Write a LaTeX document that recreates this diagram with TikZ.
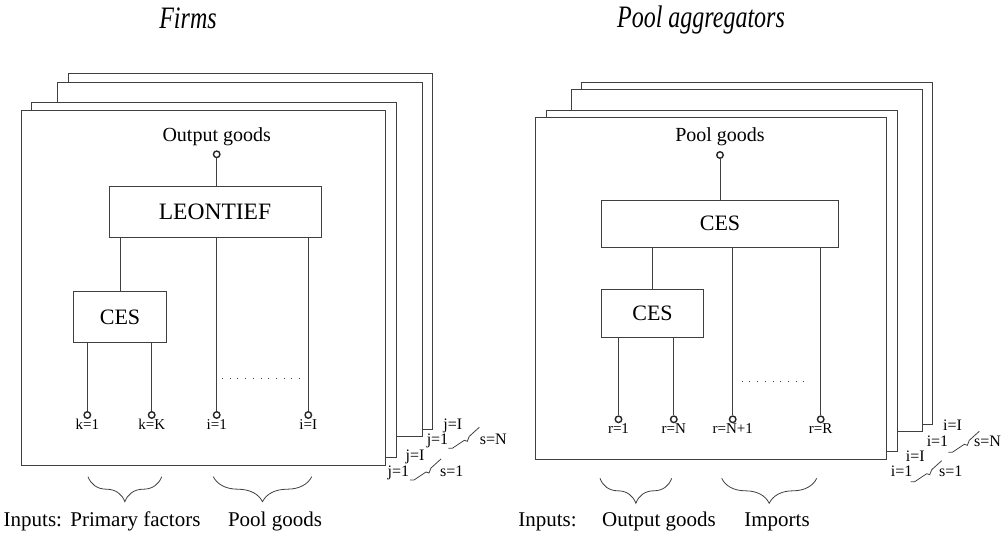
\documentclass[tikz,border=0pt]{standalone}
\usepackage{graphicx}
\usepackage{fontspec}
\setmainfont{Liberation Serif}
\usetikzlibrary{decorations.pathreplacing}

\begin{document}
\begin{tikzpicture}[x=1pt,y=-1pt,line width=0.8pt,
  frame/.style={draw=linegray,fill=white},
  box/.style={draw=linegray,fill=white,inner sep=0,font=\fontsize{22}{22}\selectfont},
  port/.style={circle,draw=black!85,line width=1.4pt,fill=white,inner sep=0,minimum size=6.5,label distance=13.3},
  idx/.style={inner sep=0,text height=10pt,text depth=0pt,font=\fontsize{15}{15}\selectfont},
  side/.style={inner sep=0,anchor=base,font=\fontsize{16}{16}\selectfont},
  txt/.style={inner sep=0,anchor=base,font=\fontsize{21}{21}\selectfont},
  ttl/.style={inner sep=0,anchor=base,font=\fontsize{24}{24}\selectfont\itshape},
  brc/.style={decorate,decoration={brace,mirror,amplitude=25}}]
\definecolor{linegray}{HTML}{404040}
\useasboundingbox (0,0) rectangle (1004,535);
% stacked sheets, back to front
\foreach \xa/\ya/\xb/\yb in {68.3/73.3/432/429,57.7/82.3/422.7/436.7,31.7/102.7/396/457.3,21/110.7/385.7/465,
  581.7/82.3/932.7/424,571.7/89.7/922.3/431.7,546/110/897/451.7,535.7/117.3/886.3/459}
  {\draw[frame] (\xa,\ya) rectangle (\xb,\yb);}
\node[ttl] (firms) at (188,28.3) {\scalebox{1}[1.3]{Firms}};
\node[ttl] (pools) at (701,27.5) {\scalebox{1}[1.3]{Pool aggregators}};
% firms
\node[txt,font=\fontsize{20}{20}\selectfont] (outlbl) at (216.7,141) {Output goods};
\node[port] (outL) at (216.7,154.3) {};
\node[box,minimum width=212,minimum height=50.6,font=\fontsize{23.5}{23.5}\selectfont] (leon) at (215,212) {LEONTIEF};
\node[box,minimum width=93.7,minimum height=50.6] (cesL) at (120,317) {CES};
% pool aggregators
\node[txt,font=\fontsize{20}{20}\selectfont] (poollbl) at (720,141) {Pool goods};
\node[port] (outR) at (720,155) {};
\node[box,minimum width=236.6,minimum height=47.7] (cesbig) at (720,223.8) {CES};
\node[box,minimum width=102.6,minimum height=48.7] (cesR) at (652.5,313.3) {CES};
\foreach \nm/\px/\py/\lbl in {c1/87.3/415/k=1,c2/151.7/415/k=K,c3/216.7/415/i=1,c4/308.3/415/i=I,
  r1/618.5/419.3/r=1,r2/673.8/419.3/r=N,r3/732.7/419.3/r=N+1,r4/820.7/419.3/r=R}
  {\node[port,label={[idx]below:\lbl}] (\nm) at (\px,\py) {};}
\draw[linegray] (outL) -- (outL |- leon.north);
\draw[linegray] (cesL.north) -- (cesL.north |- leon.south);
\draw[linegray] (c1) -- (c1 |- cesL.south);
\draw[linegray] (c2) -- (c2 |- cesL.south);
\draw[linegray] (c3) -- (c3 |- leon.south);
\draw[linegray] (c4) -- (c4 |- leon.south);
\draw[linegray] (outR) -- (outR |- cesbig.north);
\draw[linegray] (cesR.north) -- (cesR.north |- cesbig.south);
\draw[linegray] (r1) -- (r1 |- cesR.south);
\draw[linegray] (r2) -- (r2 |- cesR.south);
\draw[linegray] (r3) -- (r3 |- cesbig.south);
\draw[linegray] (r4) -- (r4 |- cesbig.south);
\draw[linegray,dash pattern=on 1pt off 6.7pt] (222,378.3) -- (306,378.3);
\draw[linegray,dash pattern=on 1pt off 6.7pt] (741.7,381.7) -- (808.3,381.7);
% sheet indices
\foreach \px/\py/\lbl [count=\n] in {452.7/429.3/j=I,437.5/444.3/j=1,493.3/444.3/s=N,415/460/j=I,398.3/476/j=1,451.7/476/s=1,
  952.5/430.7/i=I,937.5/446.7/i=1,987.5/446.7/s=N,915.3/461.7/i=I,901.7/476.7/i=1,950.8/476.7/s=1}
  {\node[side] (side\n) at (\px,\py) {\lbl};}
\foreach \sx/\sy in {448.3/448.3,410/480,948.3/452.3,910.7/481.7}
  {\draw[linegray] (\sx,\sy) -- ++(4,0) -- ++(12,-8) -- ++(3,1) -- ++(2,-5) -- ++(10,-9);}
% inputs
\draw[linegray,brc] (88,476.7) -- (161.7,476.7);
\draw[linegray,brc] (213.3,476.7) -- (311.7,476.7);
\draw[linegray,brc] (600,478.3) -- (671.7,478.3);
\draw[linegray,brc] (721.7,478.3) -- (816.7,478.3);
\node[txt,anchor=base west] (inL) at (3.3,526.7) {Inputs:};
\node[txt,anchor=base west] (primary) at (70,526.7) {Primary factors};
\node[txt] (poolin) at (275,526.7) {Pool goods};
\node[txt,anchor=base west] (inR) at (518,526.7) {Inputs:};
\node[txt] (outin) at (659,526.7) {Output goods};
\node[txt] (imports) at (777,526.7) {Imports};
\end{tikzpicture}
\end{document}
